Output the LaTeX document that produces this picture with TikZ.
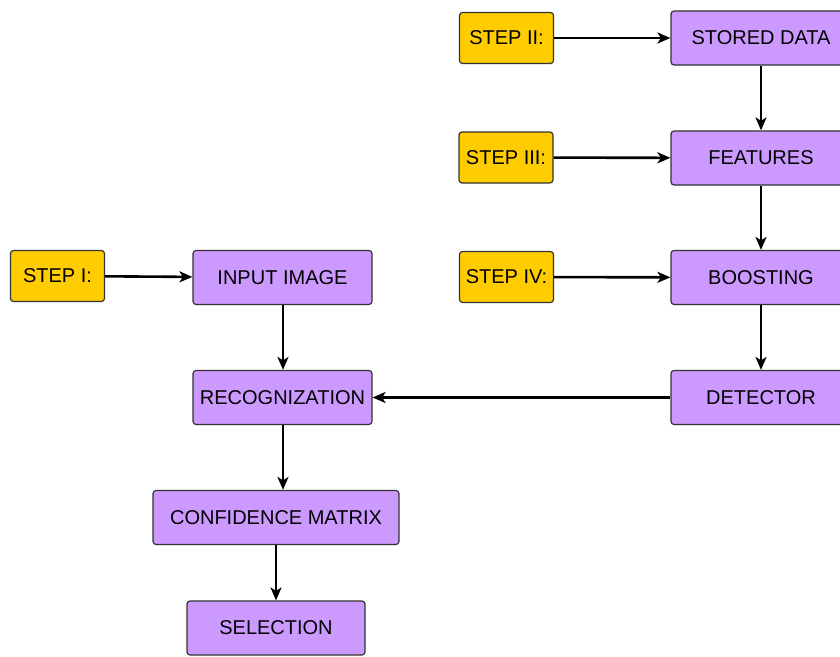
\documentclass[tikz,border=0pt]{standalone}
\usepackage{fontspec}
\setmainfont{Liberation Sans}
\usetikzlibrary{arrows.meta}
\definecolor{stepgold}{HTML}{FFCC00}
\definecolor{boxpurple}{HTML}{CC99FF}
\definecolor{edgegray}{HTML}{333333}
\begin{document}
\begin{tikzpicture}[x=1pt,y=-1pt,
  base/.style={draw=edgegray, line width=1.2pt, rounded corners=3pt, inner sep=0pt, font=\fontsize{20}{23}\selectfont, text=black},
  stepbox/.style={base, fill=stepgold, minimum width=94pt, minimum height=51pt},
  procbox/.style={base, fill=boxpurple, minimum height=54pt},
  conn/.style={line width=2.6pt, -{Stealth[length=13pt,width=11pt,inset=3.5pt]}}]
\useasboundingbox (0,0) rectangle (840,656);
\node[stepbox] (s2) at (506.5,38) {STEP II:};
\node[stepbox] (s3) at (506,157.5) {STEP III:};
\node[stepbox] (s4) at (506.5,277) {STEP IV:};
\node[stepbox] (s1) at (57.5,276) {STEP I:};
\node[procbox, minimum width=180pt] (stored) at (761,38) {STORED DATA};
\node[procbox, minimum width=180pt] (feat) at (761,158) {FEATURES};
\node[procbox, minimum width=180pt] (boost) at (761,277.5) {BOOSTING};
\node[procbox, minimum width=180pt] (det) at (761,397.5) {DETECTOR};
\node[procbox, minimum width=179pt] (input) at (282.5,277.5) {INPUT IMAGE};
\node[procbox, minimum width=179pt] (recog) at (282.5,397.5) {RECOGNIZATION};
\node[procbox, minimum width=246pt] (conf) at (276,517.5) {CONFIDENCE MATRIX};
\node[procbox, minimum width=178pt] (sel) at (276,628) {SELECTION};
\draw[conn] (s2) -- (stored);
\draw[conn] (s3) -- (feat);
\draw[conn] (s4) -- (boost);
\draw[conn] (s1) -- (input);
\draw[conn] (stored) -- (feat);
\draw[conn] (feat) -- (boost);
\draw[conn] (boost) -- (det);
\draw[conn] (det) -- (recog);
\draw[conn] (input.south -| 283,0) -- (recog.north -| 283,0);
\draw[conn] (recog.south -| 283,0) -- (conf.north -| 283,0);
\draw[conn] (conf) -- (sel);
\end{tikzpicture}
\end{document}
